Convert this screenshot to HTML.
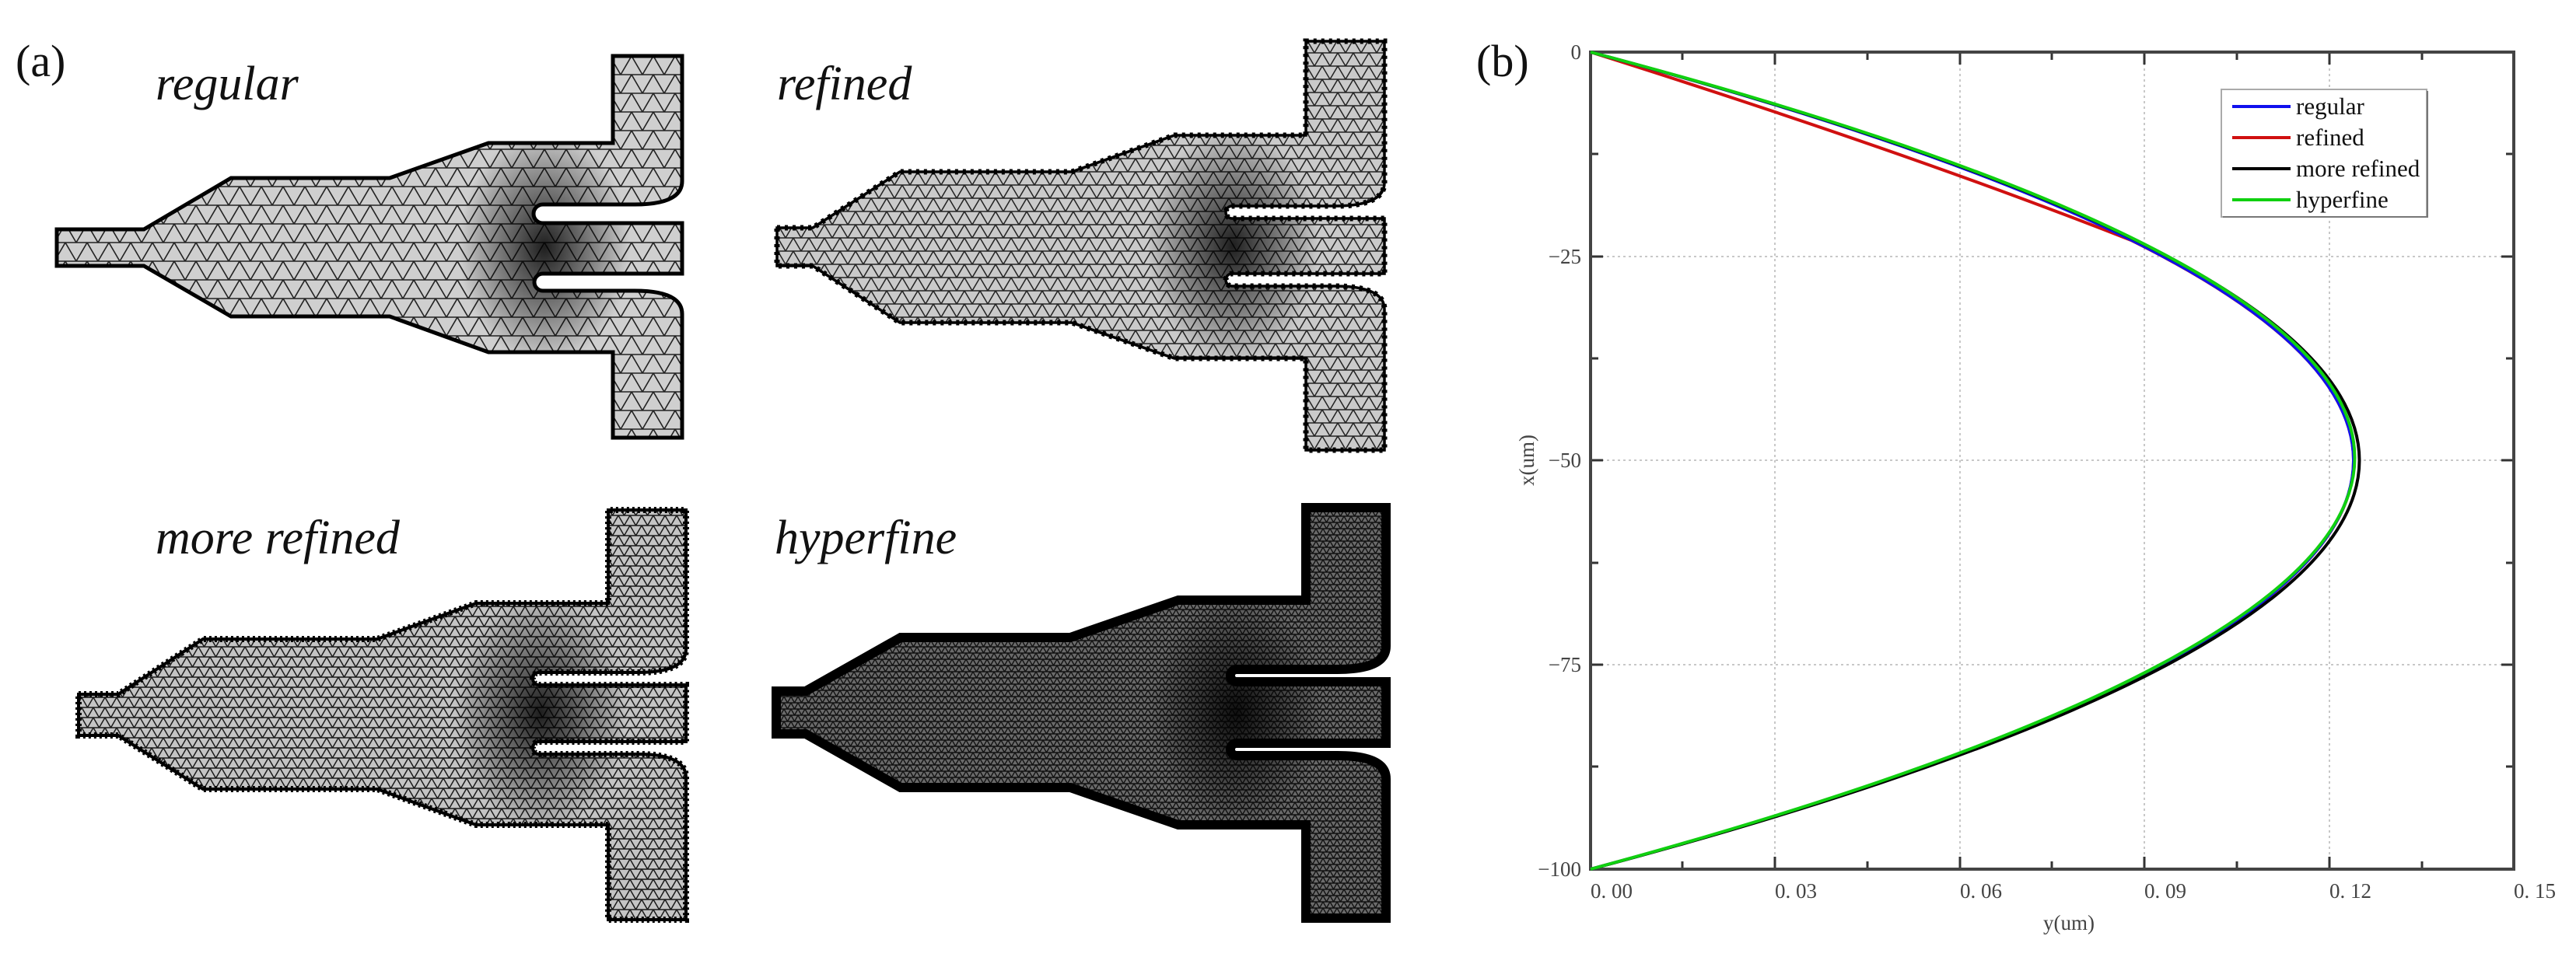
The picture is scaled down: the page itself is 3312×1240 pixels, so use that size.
<!DOCTYPE html>
<html><head><meta charset="utf-8"><style>
html,body{margin:0;padding:0;background:#fff;}
svg{display:block;}
</style></head><body>
<svg width="3312" height="1240" viewBox="0 0 3312 1240" xmlns="http://www.w3.org/2000/svg">
<defs>
<pattern id="m1" width="28" height="24" patternUnits="userSpaceOnUse">
<rect width="28" height="24" fill="#cfcfcf"/>
<path d="M0 0H28M0 0L14 24L28 0M0 24H28" stroke="#222" stroke-width="1.6" fill="none"/></pattern>
<pattern id="m2" width="20" height="17" patternUnits="userSpaceOnUse">
<rect width="20" height="17" fill="#cacaca"/>
<path d="M0 0H20M0 0L10 17L20 0M0 17H20" stroke="#222" stroke-width="1.5" fill="none"/></pattern>
<pattern id="m3" width="15" height="13" patternUnits="userSpaceOnUse">
<rect width="15" height="13" fill="#c4c4c4"/>
<path d="M0 0H15M0 0L7.5 13L15 0M0 13H15" stroke="#1a1a1a" stroke-width="1.5" fill="none"/></pattern>
<pattern id="m4" width="9" height="8" patternUnits="userSpaceOnUse">
<rect width="9" height="8" fill="#6a6a6a"/>
<path d="M0 0H9M0 0L4.5 8L9 0M0 8H9" stroke="#111" stroke-width="1.4" fill="none"/></pattern>
<radialGradient id="dk"><stop offset="0" stop-color="#000" stop-opacity="0.85"/><stop offset="0.6" stop-color="#000" stop-opacity="0.35"/><stop offset="1" stop-color="#000" stop-opacity="0"/></radialGradient>

<path id="p1" d="M73,295 L185,295 L297,229 L501,229 L628,184 L788,184 L788,72 L877,72 L877,233 Q877,263 816,263 L698,263 A12,12 0 0 0 698,287 L877,287 L877,352 L698,352 A11,11 0 0 0 698,374 L816,374 Q877,374 877,404 L877,563 L788,563 L788,453 L628,453 L501,407 L297,407 L185,342 L73,342 Z"/>
<path id="p2" d="M999,293 L1045,293 L1157,221 L1378,221 L1510,174 L1679,174 L1679,53 L1780,53 L1780,235 Q1780,265 1716,265 L1584,265 A8,8 0 0 0 1584,281 L1780,281 L1780,352 L1584,352 A8,8 0 0 0 1584,368 L1716,368 Q1780,368 1780,398 L1780,579 L1679,579 L1679,461 L1510,461 L1378,415 L1157,415 L1045,342 L999,342 Z"/>
<path id="p3" d="M101,893 L152,893 L261,822 L485,822 L612,776 L782,776 L782,656 L882,656 L882,835 Q882,865 820,865 L693,865 A8,8 0 0 0 693,881 L882,881 L882,954 L693,954 A8,8 0 0 0 693,970 L820,970 Q882,970 882,1000 L882,1183 L782,1183 L782,1061 L612,1061 L485,1015 L261,1015 L152,946 L101,946 Z"/>
<path id="p4" d="M998,889 L1036,889 L1158,820 L1376,820 L1515,772 L1679,772 L1679,653 L1782,653 L1782,831 Q1782,861 1720,861 L1590,861 A8,8 0 0 0 1590,877 L1782,877 L1782,956 L1590,956 A8,8 0 0 0 1590,972 L1720,972 Q1782,972 1782,1002 L1782,1181 L1679,1181 L1679,1061 L1515,1061 L1376,1013 L1158,1013 L1036,944 L998,944 Z"/>
<clipPath id="c1"><use href="#p1"/></clipPath>
<clipPath id="c2"><use href="#p2"/></clipPath>
<clipPath id="c3"><use href="#p3"/></clipPath>
<clipPath id="c4"><use href="#p4"/></clipPath>
</defs>

<g font-family="Liberation Serif, serif" fill="#111">
<text x="20" y="98" font-size="58">(a)</text>
<text x="1898" y="98" font-size="58">(b)</text>
<g font-style="italic" font-size="62">
<text x="200" y="128">regular</text>
<text x="999" y="128">refined</text>
<text x="200" y="712">more refined</text>
<text x="996" y="712">hyperfine</text>
</g>
</g>

<use href="#p1" fill="url(#m1)"/>
<g clip-path="url(#c1)"><ellipse cx="700" cy="318" rx="110" ry="150" fill="url(#dk)"/></g>
<use href="#p1" fill="none" stroke="#000" stroke-width="5"/>

<use href="#p2" fill="url(#m2)"/>
<g clip-path="url(#c2)"><ellipse cx="1585" cy="316" rx="110" ry="150" fill="url(#dk)"/></g>
<use href="#p2" fill="none" stroke="#000" stroke-width="7" stroke-dasharray="4 6"/>
<use href="#p2" fill="none" stroke="#000" stroke-width="3.5"/>

<use href="#p3" fill="url(#m3)"/>
<g clip-path="url(#c3)"><ellipse cx="695" cy="917" rx="110" ry="150" fill="url(#dk)"/></g>
<use href="#p3" fill="none" stroke="#000" stroke-width="8" stroke-dasharray="3 4"/>
<use href="#p3" fill="none" stroke="#000" stroke-width="4"/>

<use href="#p4" fill="url(#m4)"/>
<g clip-path="url(#c4)"><ellipse cx="1590" cy="916" rx="110" ry="150" fill="url(#dk)"/></g>
<use href="#p4" fill="none" stroke="#000" stroke-width="12"/>

<g stroke="#c8c8c8" stroke-width="2" stroke-dasharray="3 4" fill="none">
<path d="M2045,330H3232M2045,592H3232M2045,855H3232"/>
<path d="M2282,67V1118M2520,67V1118M2757,67V1118M2995,67V1118"/>
</g>
<g stroke="#333" stroke-width="3">
<path d="M2163,1118v-10M2401,1118v-10M2638,1118v-10M2876,1118v-10M3114,1118v-10"/>
<path d="M2282,1118v-16M2520,1118v-16M2757,1118v-16M2995,1118v-16"/>
<path d="M2163,67v10M2401,67v10M2638,67v10M2876,67v10M3114,67v10"/>
<path d="M2282,67v16M2520,67v16M2757,67v16M2995,67v16"/>
<path d="M2045,198h10M2045,461h10M2045,724h10M2045,986h10"/>
<path d="M2045,330h16M2045,592h16M2045,855h16"/>
<path d="M3232,198h-10M3232,461h-10M3232,724h-10M3232,986h-10"/>
<path d="M3232,330h-16M3232,592h-16M3232,855h-16"/>
</g>
<rect x="2045" y="67" width="1187" height="1051" fill="none" stroke="#444" stroke-width="4"/>

<g fill="none" stroke-width="4">
<path d="M2045,67 Q2450,195 2740,309 Q3556,713 2045,1118" stroke="#d01010"/>
<path d="M2045,67 Q4007,592 2045,1118" stroke="#1010ee"/>
<path d="M2045,67 Q4022,592 2045,1118" stroke="#000"/>
<path d="M2045,67 Q4010,585 2045,1118" stroke="#10d010"/>
</g>

<rect x="2856" y="115" width="264" height="164" fill="#fff" stroke="#aaa" stroke-width="2"/>
<path d="M2858,279H3121V117" stroke="#777" stroke-width="2" fill="none"/>
<g stroke-width="4">
<path d="M2870,137H2945" stroke="#1010ee"/>
<path d="M2870,177H2945" stroke="#d01010"/>
<path d="M2870,217H2945" stroke="#000"/>
<path d="M2870,257H2945" stroke="#10d010"/>
</g>
<g font-family="Liberation Serif, serif" font-size="31" fill="#111">
<text x="2952" y="147">regular</text>
<text x="2952" y="187">refined</text>
<text x="2952" y="227">more refined</text>
<text x="2952" y="267">hyperfine</text>
</g>

<g font-family="Liberation Serif, serif" font-size="27" fill="#444">
<g text-anchor="end">
<text x="2033" y="76">0</text>
<text x="2033" y="339">−25</text>
<text x="2033" y="601">−50</text>
<text x="2033" y="864">−75</text>
<text x="2033" y="1127">−100</text>
</g>
<text x="2045" y="1155">0. 00</text>
<text x="2282" y="1155">0. 03</text>
<text x="2520" y="1155">0. 06</text>
<text x="2757" y="1155">0. 09</text>
<text x="2995" y="1155">0. 12</text>
<text x="3232" y="1155">0. 15</text>
<text x="2660" y="1196" text-anchor="middle">y(um)</text>
<text transform="translate(1972,592) rotate(-90)" text-anchor="middle">x(um)</text>
</g>
</svg>
</body></html>
